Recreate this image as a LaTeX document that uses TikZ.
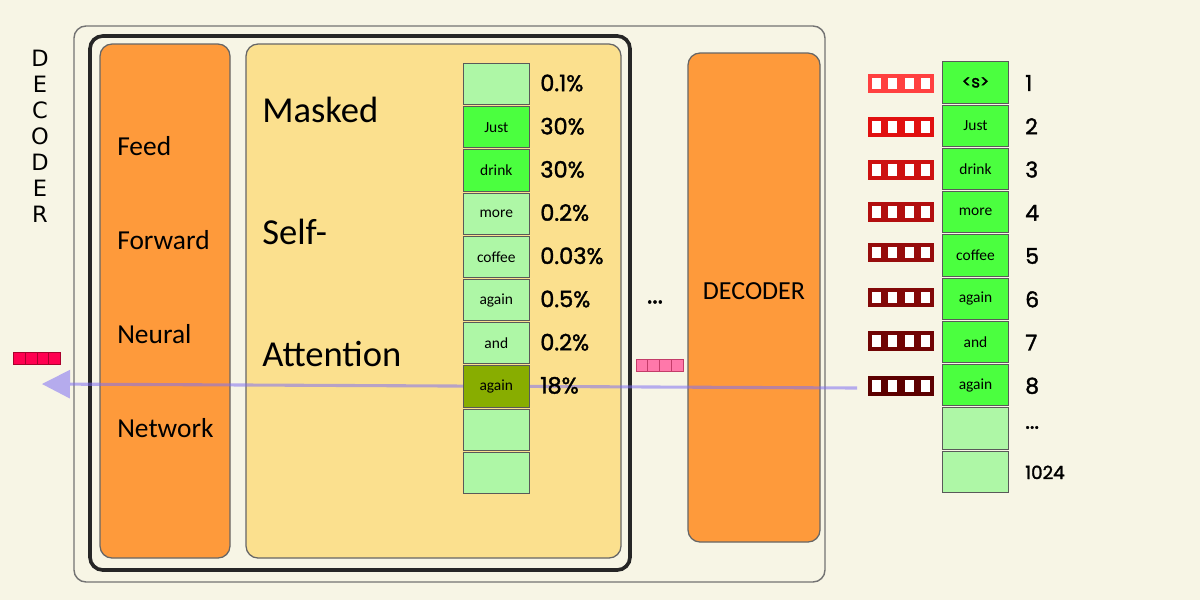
\documentclass[tikz,border=0pt]{standalone}
\usepackage{fontspec}
\setmainfont{Carlito}
\newfontfamily\popf[FakeBold=1.6]{Poppins}
\newfontfamily\dejf{DejaVu Sans}
\usetikzlibrary{arrows.meta}
\definecolor{bgc}{HTML}{F7F5E5}
\definecolor{orng}{HTML}{FE9A3B}
\definecolor{ylw}{HTML}{FBE08E}
\definecolor{lgrn}{HTML}{AEF7A6}
\definecolor{bgrn}{HTML}{4BFF3F}
\definecolor{olv}{HTML}{88AD00}
\definecolor{arrc}{HTML}{8070F4}
\definecolor{vred}{HTML}{FF0050}
\definecolor{vredd}{HTML}{AA002D}
\definecolor{vpnk}{HTML}{FF78AA}
\definecolor{vpnkd}{HTML}{C33C69}
\definecolor{ca}{RGB}{255,64,64}
\definecolor{cb}{RGB}{225,16,16}
\definecolor{cc}{RGB}{205,17,17}
\definecolor{cd}{RGB}{178,14,14}
\definecolor{ce}{RGB}{150,12,12}
\definecolor{cf}{RGB}{130,8,8}
\definecolor{cg}{RGB}{112,4,4}
\definecolor{ch}{RGB}{92,0,0}
\tikzset{
  px/.style={x=0.025cm,y=-0.025cm},
  boxline/.style={draw=black!60, line width=0.9pt, rounded corners=0.3cm},
  cell/.style={draw=black!65, line width=0.7pt, minimum width=1.65cm, minimum height=1.03cm, inner sep=0pt, font=\fontsize{11}{12}\selectfont},
  pct/.style={anchor=west, inner sep=0pt, font=\popf\fontsize{16}{17}\selectfont},
  num/.style={anchor=west, inner sep=0pt, font=\popf\fontsize{15.5}{17}\selectfont},
  ff/.style={anchor=west, inner sep=0pt, font=\fontsize{19.5}{22}\selectfont},
  msa/.style={anchor=west, inner sep=0pt, font=\fontsize{26}{28}\selectfont},
}
\newcommand\myvec[4]{% x y color name
  \begin{scope}[shift={(#1,#2)}]
    \foreach \k in {0,1,2,3}{
      \fill[fill=#3] (16.5*\k,0) rectangle ++(16.5,19.5);
      \fill[white] (16.5*\k+3.6,3.9) rectangle ++(9.3,11.7);
    }
    \coordinate (#4) at (0,9.75);
  \end{scope}}
\begin{document}
\begin{tikzpicture}[px]
\fill[bgc] (0,0) rectangle (1200,600);
\useasboundingbox (0,0) rectangle (1200,600);
% containers
\draw[draw=black!55, line width=1pt, rounded corners=0.3cm, fill=bgc] (74,26) rectangle (825,582);
\draw[draw=black!85, line width=2.6pt, rounded corners=0.32cm] (90,36) rectangle (630,570);
\draw[boxline, fill=orng] (100,44) rectangle (230,558);
\draw[boxline, fill=ylw] (246,44) rectangle (621,558);
\draw[boxline, fill=orng] (688,53) rectangle (820,542);
% vertical label
\foreach \c [count=\i from 0] in {D,E,C,O,D,E,R}
  \node[inner sep=0pt, font=\dejf\fontsize{16}{17}\selectfont] (v\i) at (40,58.5+26*\i) {\c};
% texts in boxes
\node[ff] (t1) at (117,146) {Feed};
\node[ff] (t2) at (117,240) {Forward};
\node[ff] (t3) at (117,334) {Neural};
\node[ff] (t4) at (117,428) {Network};
\node[msa] (s1) at (262,110) {Masked};
\node[msa] (s2) at (262,232) {Self-};
\node[msa] (s3) at (262,354) {Attention};
\node[inner sep=0pt, font=\fontsize{18.5}{20}\selectfont] (dec) at (754,291) {DECODER};
\node[inner sep=0pt, font=\popf\fontsize{18}{18}\selectfont] (dots1) at (655,302) {...};
% arrow
\coordinate (astart) at (857,388);
\coordinate (aend) at (42,384);
\draw[arrc, opacity=0.55, line width=2.2pt, -{Triangle[length=0.7cm,width=0.72cm,line width=0pt]}] (astart) -- (aend);
% left and pink vectors
\begin{scope}[shift={(13.3,352)}]
  \foreach \k in {0,1,2,3} \draw[fill=vred, draw=vredd, line width=0.6pt] (11.85*\k,0) rectangle ++(11.85,12);
\end{scope}
\begin{scope}[shift={(636,359.5)}]
  \foreach \k in {0,1,2,3} \draw[fill=vpnk, draw=vpnkd, line width=0.6pt] (11.8*\k,0) rectangle ++(11.8,12);
\end{scope}
% middle column
\foreach \col/\txt/\p [count=\i from 0] in {lgrn//0.1\%, bgrn/Just/30\%, bgrn/drink/30\%, lgrn/more/0.2\%, lgrn/coffee/0.03\%, lgrn/again/0.5\%, lgrn/and/0.2\%, olv/again/18\%, lgrn//, lgrn//}{
  \node[cell, fill=\col] (m\i) at (496.3,84+43.2*\i) {\txt};
  \node[pct] (p\i) at (540,83+43.2*\i) {\p};
}
% right column
\foreach \col/\txt/\n [count=\i from 0] in {bgrn/{\popf\fontsize{12}{12}\selectfont<s>}/1, bgrn/Just/2, bgrn/drink/3, bgrn/more/4, bgrn/coffee/5, bgrn/again/6, bgrn/and/7, bgrn/again/8, lgrn//{\raisebox{0.15em}{...}}, lgrn//{\fontsize{13}{14}\selectfont 1024}}{
  \node[cell, fill=\col] (r\i) at (975.5,82.5+43.26*\i) {\txt};
  \node[num] (n\i) at (1025,83+43.26*\i) {\n};
}
% input vectors
\myvec{868}{73.7}{ca}{e0}
\myvec{868}{117.2}{cb}{e1}
\myvec{868}{160.3}{cc}{e2}
\myvec{868}{202.2}{cd}{e3}
\myvec{868}{242.7}{ce}{e4}
\myvec{868}{287.7}{cf}{e5}
\myvec{868}{331.2}{cg}{e6}
\myvec{868}{376.2}{ch}{e7}
\end{tikzpicture}
\end{document}
